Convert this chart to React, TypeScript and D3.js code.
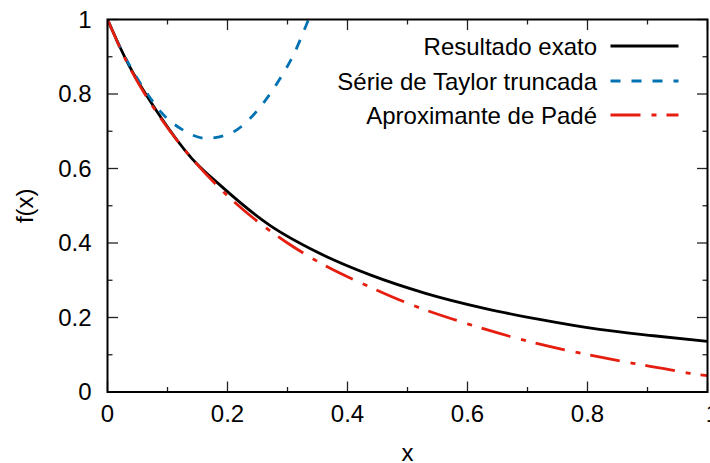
import React from "react";
import * as d3 from "d3";

const exactX = [0, 0.03, 0.09, 0.14, 0.19, 0.27, 0.35, 0.44, 0.53, 0.63, 0.72, 0.82, 0.91, 1.0];
const exactY = [1.0, 0.895, 0.735, 0.628, 0.552, 0.448, 0.375, 0.313, 0.265, 0.224, 0.195, 0.168, 0.151, 0.136];

const taylorX = [0, 0.024, 0.04, 0.071, 0.09, 0.124, 0.165, 0.207, 0.2375, 0.265, 0.29, 0.31, 0.332, 0.35];
const taylorY = [1.0, 0.915, 0.868, 0.79, 0.75, 0.705, 0.681, 0.696, 0.734, 0.787, 0.848, 0.905, 0.988, 1.06];

const padeX = [0, 0.03, 0.09, 0.135, 0.2, 0.254, 0.3, 0.354, 0.44, 0.507, 0.6, 0.6875, 0.76, 0.826, 0.876, 0.93, 0.971, 1.0];
const padeY = [1.0, 0.893, 0.732, 0.638, 0.527, 0.453, 0.4, 0.347, 0.28, 0.234, 0.183, 0.142, 0.114, 0.092, 0.077, 0.062, 0.05, 0.044];

const xTicks = [0, 0.2, 0.4, 0.6, 0.8, 1];
const yTicks = [0, 0.2, 0.4, 0.6, 0.8, 1];
const minorTicks = [0.1, 0.3, 0.5, 0.7, 0.9];

const seriesNames = ["Resultado exato", "Série de Taylor truncada", "Aproximante de Padé"];
const seriesColors = ["#000000", "#0072b2", "#e51e10"];
const seriesDash = ["none", "10,11", "30,11,5,10"];

const W = 710;
const H = 463;
const L = 107.5, R = 707.5, T = 19.5, B = 392;
const FONT = "'Liberation Sans', Arial, Helvetica, sans-serif";
const FS = 24;

export default function App() {
  const x = d3.scaleLinear().domain([0, 1]).range([L, R]);
  const y = d3.scaleLinear().domain([0, 1]).range([B, T]);
  const line = (xs: number[], ys: number[]) =>
    d3
      .line<number>()
      .x((_, i) => x(xs[i]))
      .y((d) => y(d))
      .curve(d3.curveMonotoneX)(ys) || "";

  const paths = [line(exactX, exactY), line(taylorX, taylorY), line(padeX, padeY)];
  const legendY = [46, 81, 115];

  return (
    <svg
      width={W}
      height={H}
      style={{ position: "absolute", left: 0, top: 0, background: "#fff" }}
      fontFamily={FONT}
    >
      <defs>
        <clipPath id="plotclip">
          <rect x={L} y={T} width={R - L} height={B - T} />
        </clipPath>
      </defs>
      <rect x={0} y={0} width={W} height={H} fill="#fff" />
      {/* ticks */}
      <g stroke="#222" strokeWidth={1.3}>
        {xTicks.map((t) => (
          <g key={"xt" + t}>
            <line x1={x(t)} x2={x(t)} y1={B} y2={B - 10.5} />
            <line x1={x(t)} x2={x(t)} y1={T} y2={T + 10.5} />
          </g>
        ))}
        {minorTicks.map((t) => (
          <g key={"xm" + t}>
            <line x1={x(t)} x2={x(t)} y1={B} y2={B - 5} />
            <line x1={x(t)} x2={x(t)} y1={T} y2={T + 5} />
            <line x1={L} x2={L + 5} y1={y(t)} y2={y(t)} />
            <line x1={R} x2={R - 5} y1={y(t)} y2={y(t)} />
          </g>
        ))}
        {yTicks.map((t) => (
          <g key={"yt" + t}>
            <line x1={L} x2={L + 10.5} y1={y(t)} y2={y(t)} />
            <line x1={R} x2={R - 10.5} y1={y(t)} y2={y(t)} />
          </g>
        ))}
      </g>
      {/* tick labels */}
      <g fontSize={FS} fill="#000">
        {xTicks.map((t) => (
          <text key={"xl" + t} x={x(t) + (t === 1 ? 5 : 0)} y={B + 30} textAnchor="middle">
            {d3.format("~g")(t)}
          </text>
        ))}
        {yTicks.map((t) => (
          <text key={"yl" + t} x={L - 16} y={y(t) + 8} textAnchor="end">
            {d3.format("~g")(t)}
          </text>
        ))}
        <text x={(L + R) / 2} y={461} textAnchor="middle">x</text>
        <text
          transform={`translate(33, ${(T + B) / 2}) rotate(-90)`}
          textAnchor="middle"
        >
          f(x)
        </text>
      </g>
      {/* curves */}
      <g clipPath="url(#plotclip)" fill="none">
        {paths.map((p, i) => (
          <path
            key={"c" + i}
            d={p}
            stroke={seriesColors[i]}
            strokeWidth={2.8}
            strokeDasharray={seriesDash[i]}
          />
        ))}
      </g>
      {/* legend */}
      <g fontSize={FS}>
        {seriesNames.map((n, i) => (
          <g key={"lg" + i}>
            <text x={597} y={legendY[i] + 8.5} textAnchor="end">
              {n}
            </text>
            <line
              x1={610.5}
              x2={678.5}
              y1={legendY[i]}
              y2={legendY[i]}
              stroke={seriesColors[i]}
              strokeWidth={2.8}
              strokeDasharray={seriesDash[i]}
            />
          </g>
        ))}
      </g>
      {/* frame */}
      <rect x={L} y={T} width={R - L} height={B - T} fill="none" stroke="#000" strokeWidth={2} />
    </svg>
  );
}
